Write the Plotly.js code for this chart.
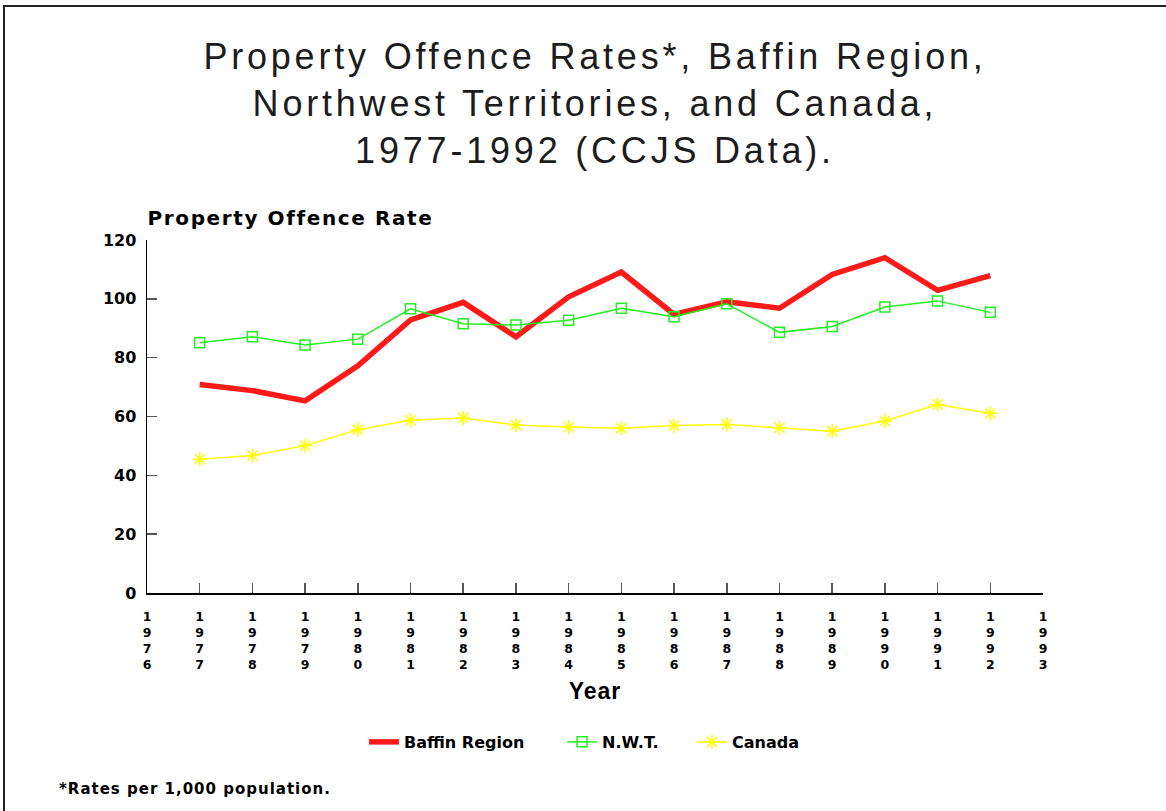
<!DOCTYPE html>
<html>
<head>
<meta charset="utf-8">
<script src="https://cdn.plot.ly/plotly-3.0.1.min.js"></script>
<style>
  html, body { margin: 0; padding: 0; background: #fff; }
  #wrap { position: relative; width: 1166px; height: 811px; overflow: hidden; }
  #chart { width: 1166px; height: 811px; }
  #frame { position: absolute; left: 3px; top: 5px; width: 1200px; height: 900px;
           border-left: 2px solid #222; border-top: 2px solid #222; pointer-events: none; }
  #chart .gtitle { letter-spacing: 3.8px; }
  #chart .annotation[data-index="0"] .annotation-text { letter-spacing: 1.6px; }
  #chart .annotation[data-index="1"] .annotation-text { letter-spacing: 1px; }
  #chart .xtitle { letter-spacing: 1px; }
</style>
</head>
<body>
<div id="wrap">
  <div id="chart"></div>
  <div id="frame"></div>
</div>
<script>
// ---- data ----
const years = [1977, 1978, 1979, 1980, 1981, 1982, 1983, 1984, 1985, 1986, 1987, 1988, 1989, 1990, 1991, 1992];
const baffin = [70.9, 68.8, 65.3, 77.2, 92.8, 98.8, 87.1, 100.7, 109.1, 94.7, 99.0, 96.8, 108.3, 114.0, 102.9, 107.9];
const nwt = [85.1, 87.1, 84.3, 86.3, 96.6, 91.5, 91.1, 92.7, 96.8, 93.9, 98.3, 88.6, 90.6, 97.2, 99.3, 95.4];
const canada = [45.5, 46.7, 50.1, 55.5, 58.7, 59.5, 57.1, 56.4, 56.0, 56.9, 57.3, 56.2, 55.0, 58.5, 64.1, 61.1];
const tickYears = [1976, 1977, 1978, 1979, 1980, 1981, 1982, 1983, 1984, 1985, 1986, 1987, 1988, 1989, 1990, 1991, 1992, 1993];
const seriesNames = ['Baffin Region', 'N.W.T.', 'Canada'];
const titleText = 'Property Offence Rates*, Baffin Region,<br>Northwest Territories, and Canada,<br>1977-1992 (CCJS Data).';
const yTitleText = 'Property Offence Rate';
const xTitleText = 'Year';
const footnoteText = '*Rates per 1,000 population.';

const tickText = tickYears.map(y => String(y).split('').join('<br>'));
const FONT = 'Liberation Sans, Arial, Helvetica, sans-serif';
const WIDE = 'DejaVu Sans, Verdana, sans-serif';
const legendFont = { family: WIDE, size: 16, weight: 'bold', color: '#000' };

const traces = [
  { x: years, y: baffin, name: seriesNames[0], type: 'scatter', mode: 'lines', legend: 'legend',
    line: { color: '#ff1a1a', width: 5.5 } },
  { x: years, y: nwt, name: seriesNames[1], type: 'scatter', mode: 'lines+markers', legend: 'legend2',
    line: { color: '#22ee22', width: 1.5 },
    marker: { symbol: 'square-open', size: 10, color: '#22ee22', line: { width: 1.5, color: '#22ee22' } } },
  { x: years, y: canada, name: seriesNames[2], type: 'scatter', mode: 'lines+markers', legend: 'legend3',
    line: { color: '#ffff00', width: 1.5 },
    marker: { symbol: 'asterisk-open', size: 12, color: '#ffff00', line: { width: 1.5, color: '#ffff00' } } }
];

function legendAt(x) {
  return { orientation: 'h', x: x, xanchor: 'left', y: -0.422, yanchor: 'middle',
           font: legendFont, bgcolor: 'rgba(0,0,0,0)', itemwidth: 30, borderwidth: 0 };
}

const layout = {
  width: 1166, height: 811,
  paper_bgcolor: '#ffffff', plot_bgcolor: '#ffffff',
  margin: { l: 147, r: 123, t: 240, b: 218, pad: 0 },
  font: { family: FONT, color: '#000' },
  title: {
    text: titleText,
    font: { family: FONT, size: 36, color: '#1c1c1c' },
    x: 0.5, xref: 'paper', xanchor: 'center',
    y: 0.915, yref: 'container', yanchor: 'top'
  },
  showlegend: true,
  legend: legendAt(0.2422),
  legend2: legendAt(0.4632),
  legend3: legendAt(0.6083),
  xaxis: {
    range: [1976, 1993], tickmode: 'array', tickvals: tickYears, ticktext: tickText,
    ticks: 'inside', ticklen: 10, tickwidth: 1.5, tickcolor: '#555',
    showline: true, linecolor: '#000', linewidth: 1.5,
    showgrid: false, zeroline: false, ticklabelstandoff: 11,
    tickfont: { family: WIDE, size: 12.5, weight: 'bold', color: '#000' },
    title: { text: xTitleText, font: { family: FONT, size: 23, weight: 'bold', color: '#000' }, standoff: 11 },
    fixedrange: true
  },
  yaxis: {
    range: [0, 120], tickmode: 'linear', tick0: 0, dtick: 20,
    ticks: 'inside', ticklen: 10, tickwidth: 1.5, tickcolor: '#555',
    showline: true, linecolor: '#000', linewidth: 1.5,
    showgrid: false, zeroline: false, ticklabelstandoff: 6,
    tickfont: { family: WIDE, size: 16, weight: 'bold', color: '#000' },
    fixedrange: true
  },
  annotations: [
    { text: yTitleText, xref: 'paper', yref: 'paper', x: 0.1596, y: 1, xanchor: 'center', yanchor: 'bottom',
      yshift: 8, showarrow: false,
      font: { family: WIDE, size: 20, weight: 'bold', color: '#000' } },
    { text: footnoteText, xref: 'paper', yref: 'paper', x: 0.0536, y: -0.555, xanchor: 'center', yanchor: 'middle',
      showarrow: false,
      font: { family: WIDE, size: 15, weight: 'bold', color: '#000' } }
  ]
};

Plotly.newPlot('chart', traces, layout, { displayModeBar: false, staticPlot: true });
</script>
</body>
</html>
